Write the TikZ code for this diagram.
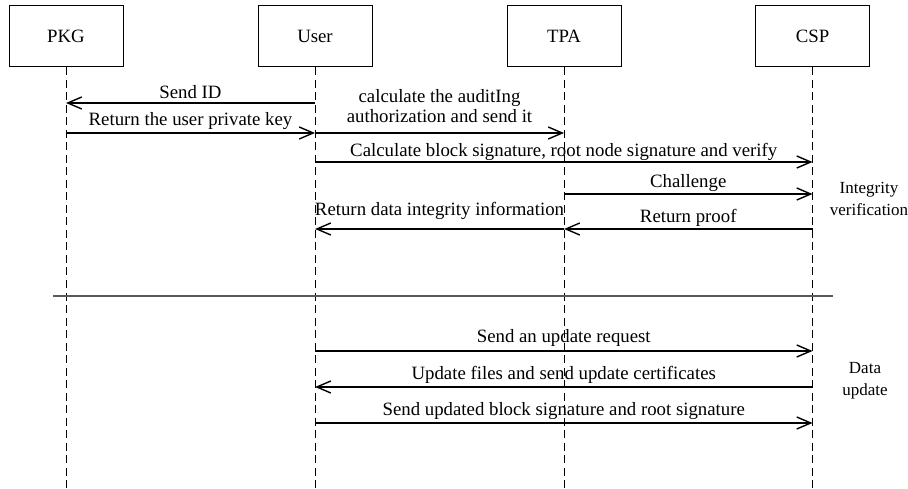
\documentclass[tikz,border=0pt]{standalone}
\usepackage{fontspec}
\setmainfont{Liberation Serif}
\usetikzlibrary{arrows.meta}
\begin{document}
\begin{tikzpicture}[x=1pt, y=-1pt,
  every node/.style={font=\fontsize{18.8}{22}\selectfont},
  actor/.style={draw, line width=1pt, minimum width=114pt, minimum height=61pt, inner sep=0pt},
  lifeline/.style={line width=1pt, dash pattern=on 8pt off 4.5pt},
  msg/.style={line width=1.4pt, -{Straight Barb[length=14pt, width=12pt]}},
  lbl/.style={midway, anchor=base, inner sep=0pt, yshift=#1},
  lbl/.default=7pt,
  sep/.style={line width=1.3pt, draw=black!65},
  phase/.style={align=center, inner sep=0pt, anchor=base, font=\fontsize{17}{22}\selectfont}
]
\useasboundingbox (0,0) rectangle (908,489);

% participants
\node[actor] (pkg)  at (66,36.5)    {PKG};
\node[actor] (user) at (315,36.5)   {User};
\node[actor] (tpa)  at (564,36.5)   {TPA};
\node[actor] (csp)  at (812.5,36.5) {CSP};

% lifeline ends
\coordinate (pkgEnd)  at (66,489);
\coordinate (userEnd) at (315,489);
\coordinate (tpaEnd)  at (564,489);
\coordinate (cspEnd)  at (812.5,489);

\draw[lifeline] (pkg.south)  -- (pkgEnd);
\draw[lifeline] (user.south) -- (userEnd);
\draw[lifeline] (tpa.south)  -- (tpaEnd);
\draw[lifeline] (csp.south)  -- (cspEnd);

% key issuing and auditing set-up
\draw[msg] (user |- 0,103) -- node[lbl=4pt] {Send ID} (pkg |- 0,103);
\draw[msg] (pkg |- 0,133) -- node[lbl=7pt] {Return the user private key} (user |- 0,133);
\draw[msg] (user |- 0,133) -- node[lbl=10pt] {authorization and send it}
                               node[lbl=30pt] {calculate the auditIng} (tpa |- 0,133);
\draw[msg] (user |- 0,162) -- node[lbl=5pt] {Calculate block signature, root node signature and verify} (csp |- 0,162);

% integrity verification
\draw[msg] (tpa |- 0,194) -- node[lbl=6pt] {Challenge} (csp |- 0,194);
\draw[msg] (csp |- 0,229) -- node[lbl=6pt] {Return proof} (tpa |- 0,229);
\draw[msg] (tpa |- 0,229) -- node[lbl=13pt] {Return data integrity information} (user |- 0,229);

\node[phase] (iv) at (869,216) {Integrity\\verification};

% phase separator
\coordinate (sepL) at (53,296);
\coordinate (sepR) at (833,296);
\draw[sep] (sepL) -- (sepR);

% data update
\draw[msg] (user |- 0,351) -- node[lbl=9pt] {Send an update request} (csp |- 0,351);
\draw[msg] (csp |- 0,387) -- node[lbl=8pt] {Update files and send update certificates} (user |- 0,387);
\draw[msg] (user |- 0,423) -- node[lbl=8pt] {Send updated block signature and root signature} (csp |- 0,423);

\node[phase] (du) at (865,395) {Data\\update};
\end{tikzpicture}
\end{document}
